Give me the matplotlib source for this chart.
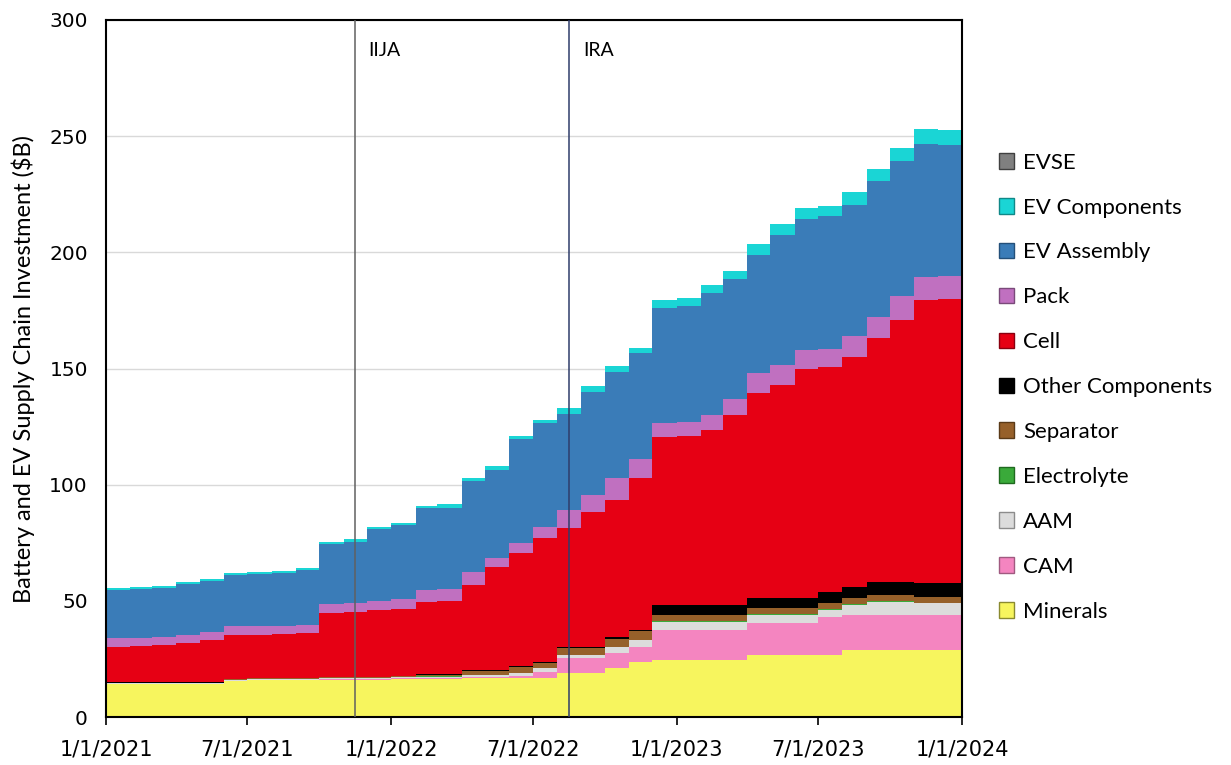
import numpy as np
import pandas as pd
import matplotlib
matplotlib.use("Agg")
import matplotlib.pyplot as plt
import matplotlib.dates as mdates
from matplotlib.patches import Patch

# month-start dates, Jan 2021 .. Jan 2024
dates = pd.date_range("2021-01-01", "2024-01-01", freq="MS")

# cumulative announced investment by segment ($B), bottom to top of the stack
minerals = [14.1, 14.1, 14.1, 14.1, 14.1, 15.5, 15.9, 15.9, 15.9, 15.9, 15.9, 15.9,
            16.4, 16.4, 16.4, 16.8, 16.8, 16.8, 16.8, 18.8, 18.8, 21.0, 23.8, 24.5,
            24.5, 24.5, 24.5, 26.7, 26.7, 26.7, 26.7, 28.8, 28.8, 28.8, 28.8, 28.8, 28.8]
cam = [0.2, 0.2, 0.2, 0.2, 0.2, 0.2, 0.2, 0.2, 0.2, 0.3, 0.3, 0.3,
       0.3, 0.4, 0.4, 0.5, 0.5, 0.9, 2.7, 6.4, 6.4, 6.5, 6.5, 13.0,
       13.0, 13.0, 13.0, 13.6, 13.6, 13.6, 16.5, 15.1, 15.1, 15.1, 15.1, 15.1, 15.1]
aam = [0.2, 0.2, 0.2, 0.2, 0.2, 0.2, 0.2, 0.2, 0.2, 0.5, 0.5, 0.5,
       0.5, 0.6, 0.6, 0.8, 0.8, 1.1, 1.4, 1.5, 1.5, 2.5, 2.8, 3.5,
       3.5, 3.5, 3.5, 3.6, 3.6, 3.6, 2.9, 4.3, 5.7, 5.7, 5.0, 5.0, 5.0]
electrolyte = [0.1, 0.1, 0.1, 0.1, 0.1, 0.1, 0.1, 0.1, 0.1, 0.1, 0.1, 0.1,
               0.1, 0.1, 0.1, 0.1, 0.1, 0.2, 0.2, 0.2, 0.2, 0.2, 0.2, 0.3,
               0.3, 0.3, 0.3, 0.3, 0.3, 0.3, 0.3, 0.3, 0.3, 0.3, 0.3, 0.3, 0.3]
separator = [0.2, 0.2, 0.2, 0.2, 0.2, 0.2, 0.2, 0.2, 0.2, 0.3, 0.3, 0.3,
             0.3, 0.8, 0.8, 1.8, 1.8, 2.7, 2.2, 2.6, 2.6, 3.3, 3.8, 2.6,
             2.6, 2.6, 2.6, 2.6, 2.6, 2.6, 2.5, 2.6, 2.6, 2.6, 2.6, 2.6, 2.6]
other = [0.1, 0.1, 0.1, 0.1, 0.1, 0.1, 0.1, 0.1, 0.1, 0.1, 0.1, 0.1,
         0.1, 0.2, 0.2, 0.3, 0.3, 0.3, 0.5, 0.5, 0.5, 0.8, 0.4, 4.3,
         4.3, 4.3, 4.3, 4.3, 4.3, 4.3, 5.0, 5.0, 5.7, 5.7, 5.7, 5.7, 5.7]
cell = [15.3, 15.6, 15.9, 17.1, 18.1, 19.0, 18.8, 19.0, 19.3, 27.5, 27.8, 28.8,
        28.8, 31.0, 31.5, 36.7, 44.3, 48.6, 53.2, 51.4, 58.3, 59.1, 65.5, 72.3,
        72.8, 75.3, 81.8, 88.4, 91.9, 98.9, 96.6, 98.9, 104.8, 112.8, 122.0, 122.5, 122.5]
pack = [3.8, 3.5, 3.7, 3.5, 3.6, 3.7, 3.5, 3.5, 3.5, 3.8, 4.0, 4.0,
        4.5, 5.2, 5.0, 5.5, 3.9, 4.4, 5.0, 7.6, 7.3, 9.6, 8.0, 6.1,
        6.0, 6.5, 7.0, 8.5, 8.5, 8.0, 8.0, 9.0, 9.0, 10.0, 10.0, 10.0, 10.0]
ev_assembly = [20.7, 21.2, 21.2, 21.7, 22.1, 22.2, 22.7, 23.0, 23.7, 26.0, 26.5, 31.0,
               31.5, 35.1, 35.0, 39.0, 38.0, 44.5, 44.5, 41.5, 44.4, 45.5, 45.5, 49.4,
               50.0, 52.5, 51.5, 51.0, 56.0, 56.5, 57.0, 56.5, 58.5, 58.5, 57.0, 56.0, 56.0]
ev_components = [0.8, 0.8, 0.8, 0.8, 0.8, 0.8, 0.8, 0.8, 0.8, 1.0, 1.0, 1.0,
                 1.0, 1.0, 1.5, 1.5, 1.5, 1.5, 1.5, 2.5, 2.5, 2.5, 2.5, 3.5,
                 3.5, 3.5, 3.5, 4.5, 4.5, 4.5, 4.5, 5.5, 5.5, 5.5, 6.5, 6.5, 6.5]
evse = [0.0] * 37

names = ["Minerals", "CAM", "AAM", "Electrolyte", "Separator", "Other Components",
         "Cell", "Pack", "EV Assembly", "EV Components", "EVSE"]
colors = ["#f7f55e", "#f485c0", "#dcdcdc", "#3aaa3a", "#96602a", "#000000",
          "#e60014", "#c070c0", "#3a7cb8", "#1ad5d5", "#808080"]
edges = ["#8a8a30", "#a05a80", "#8c8c8c", "#1f6a1f", "#5a3a18", "#000000",
         "#8a0010", "#7a4a7a", "#24507a", "#108888", "#404040"]

tick_dates = ["2021-01-01", "2021-07-01", "2022-01-01", "2022-07-01",
              "2023-01-01", "2023-07-01", "2024-01-01"]
tick_labels = ["1/1/2021", "7/1/2021", "1/1/2022", "7/1/2022",
               "1/1/2023", "7/1/2023", "1/1/2024"]

laws = ["IIJA", "IRA"]
law_dates = ["2021-11-15", "2022-08-16"]
law_colors = ["#606060", "#2f3d6b"]

fig = plt.figure(figsize=(12.31, 7.65), dpi=100)
ax = fig.add_axes([0.0861, 0.0627, 0.6954, 0.9112])

layers = [minerals, cam, aam, electrolyte, separator, other, cell, pack,
          ev_assembly, ev_components, evse]
ax.stackplot(mdates.date2num(dates), *layers, colors=colors, step="post",
             linewidth=0, zorder=2)

ax.set_xlim(mdates.date2num(pd.Timestamp("2021-01-01")),
            mdates.date2num(pd.Timestamp("2024-01-01")))
ax.set_ylim(0, 300)
ax.set_yticks(np.arange(0, 301, 50))
ax.yaxis.grid(True, color="#d9d9d9", linewidth=1, zorder=0)
ax.set_axisbelow(True)

ax.set_xticks(mdates.date2num(pd.to_datetime(tick_dates)))
ax.set_xticklabels(tick_labels)
ax.tick_params(axis="x", direction="out", length=6, width=1.2, pad=10,
               labelsize=15)
ax.tick_params(axis="y", length=0, pad=13, labelsize=14.5)

for s in ax.spines.values():
    s.set_linewidth(1.5)
    s.set_color("black")

for name, d, c in zip(laws, law_dates, law_colors):
    xd = mdates.date2num(pd.Timestamp(d))
    ax.axvline(xd, color=c, linewidth=1.1, zorder=3)
    ax.text(xd + 18, 287, name, fontsize=14, family=["Lato", "DejaVu Sans"],
            va="center", ha="left", zorder=4)

ax.set_ylabel("Battery and EV Supply Chain Investment ($B)", fontsize=17,
              family=["Liberation Sans Narrow", "Lato", "DejaVu Sans"], labelpad=10)

handles = [Patch(facecolor=c, edgecolor=e, linewidth=1, label=n)
           for n, c, e in zip(names, colors, edges)][::-1]
fig.legend(handles=handles, loc="center left", bbox_to_anchor=(0.795, 0.494),
           frameon=False, prop={"family": ["Lato", "DejaVu Sans"], "size": 16},
           handlelength=0.7, handleheight=0.7, handletextpad=0.4,
           labelspacing=1.12)

fig.savefig("out.png", dpi=100)
